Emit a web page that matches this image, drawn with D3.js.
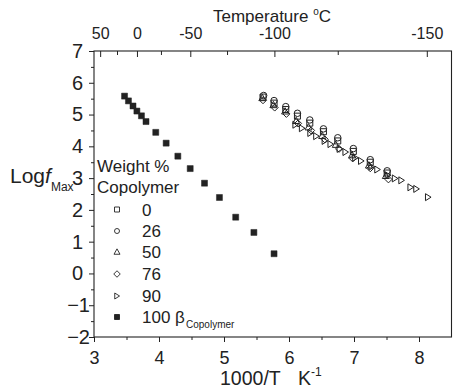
<!DOCTYPE html>
<html>
<head>
<meta charset="utf-8">
<script src="https://cdn.jsdelivr.net/npm/d3@7"></script>
<style>
  html, body { margin: 0; padding: 0; background: #fff; }
  svg { display: block; font-family: Arial, "Liberation Sans", sans-serif; }
</style>
</head>
<body>
<svg id="chart" width="453" height="389"></svg>
<script>
// ---- Data ----
const xTicks = [3, 4, 5, 6, 7, 8];
const yTicks = [-2, -1, 0, 1, 2, 3, 4, 5, 6, 7];
const tempMajor = [50, 0, -50, -100, -150];
const tempMinor = [25, -25, -75, -125];

// 0 wt% (open squares)
const x0 = [5.60, 5.77, 5.95, 6.13, 6.32, 6.53, 6.75, 6.99, 7.25, 7.51];
const y0 = [5.55, 5.36, 5.16, 4.95, 4.73, 4.46, 4.17, 3.84, 3.50, 3.16];
// 26 wt% (open circles)
const x26 = [5.61, 5.77, 5.95, 6.13, 6.32, 6.53, 6.75, 6.99, 7.25, 7.51];
const y26 = [5.60, 5.44, 5.25, 5.04, 4.83, 4.55, 4.27, 3.93, 3.58, 3.23];
// 50 wt% (open up-triangles)
const x50 = [5.59, 5.76, 5.94, 6.11, 6.30, 6.51, 6.72, 6.97, 7.23, 7.49];
const y50 = [5.52, 5.30, 5.10, 4.80, 4.60, 4.33, 4.05, 3.72, 3.40, 3.07];
// 76 wt% (open diamonds)
const x76 = [5.60, 5.78, 5.96, 6.14, 6.34, 6.55, 6.77, 6.98, 7.25, 7.53];
const y76 = [5.45, 5.22, 5.02, 4.72, 4.50, 4.22, 3.92, 3.62, 3.31, 2.96];
// 90 wt% (open right-triangles)
const x90 = [6.10, 6.20, 6.33, 6.42, 6.55, 6.64, 6.78, 6.87, 7.02, 7.11, 7.27, 7.36, 7.52, 7.63, 7.73, 7.87, 7.96, 8.14];
const y90 = [4.68, 4.57, 4.42, 4.32, 4.17, 4.07, 3.92, 3.82, 3.64, 3.54, 3.36, 3.27, 3.09, 2.99, 2.93, 2.71, 2.66, 2.40];
// 100 beta copolymer (filled squares)
const x100 = [3.47, 3.53, 3.60, 3.66, 3.73, 3.80, 3.95, 4.11, 4.29, 4.48, 4.70, 4.93, 5.18, 5.46, 5.77];
const y100 = [5.58, 5.43, 5.27, 5.11, 4.96, 4.78, 4.44, 4.10, 3.69, 3.30, 2.84, 2.39, 1.77, 1.29, 0.62];

const legendLabels = ["0", "26", "50", "76", "90", "100"];

// ---- Setup ----
const svg = d3.select("#chart");
const ink = "#222";
const FONT = "Arial, 'Liberation Sans', sans-serif";
const L = 94, R = 451.5, T = 51, B = 337;
const x = d3.scaleLinear().domain([3, 8.5]).range([L, R]);
const y = d3.scaleLinear().domain([-2, 7]).range([B, T]);
const toInv = t => 1000 / (t + 273.15);

function sym(type, s) {
  const h = s / 2;
  switch (type) {
    case "square": return `M${-h},${-h}H${h}V${h}H${-h}Z`;
    case "circle": return `M${h},0A${h},${h},0,1,1,${-h},0A${h},${h},0,1,1,${h},0Z`;
    case "triUp": return `M0,${-h*1.05}L${h},${h*0.75}L${-h},${h*0.75}Z`;
    case "diamond": return `M0,${-h}L${h},0L0,${h}L${-h},0Z`;
    case "triRight": return `M${h*0.85},0L${-h*0.75},${-h}L${-h*0.75},${h}Z`;
  }
}

const series = [
  { xs: x0, ys: y0, type: "square", size: 6, fill: "none" },
  { xs: x26, ys: y26, type: "circle", size: 6.5, fill: "none" },
  { xs: x50, ys: y50, type: "triUp", size: 7, fill: "none" },
  { xs: x76, ys: y76, type: "diamond", size: 7, fill: "none" },
  { xs: x90, ys: y90, type: "triRight", size: 7, fill: "none" },
  { xs: x100, ys: y100, type: "square", size: 6, fill: ink }
];

// ---- Frame ----
svg.append("rect")
  .attr("x", L).attr("y", T).attr("width", R - L).attr("height", B - T)
  .attr("fill", "none").attr("stroke", ink).attr("stroke-width", 1.1);

// ---- Bottom axis ----
const gB = svg.append("g").attr("transform", `translate(0,${B})`);
gB.call(d3.axisBottom(x).tickValues(xTicks).tickSize(5).tickPadding(8).tickFormat(d3.format("d")))
  .call(g => g.select(".domain").remove());
gB.selectAll(".tick text").attr("font-size", 18).attr("fill", ink).attr("font-family", FONT)
  .attr("dy", null).attr("y", 27);
gB.selectAll("line").attr("stroke", ink);
gB.append("g").call(d3.axisBottom(x).tickValues([3.5, 4.5, 5.5, 6.5, 7.5]).tickSize(3).tickFormat(""))
  .call(g => g.select(".domain").remove())
  .selectAll("line").attr("stroke", ink);

// ---- Left axis ----
const gL = svg.append("g").attr("transform", `translate(${L},0)`);
gL.call(d3.axisLeft(y).tickValues(yTicks).tickSize(5).tickPadding(11).tickFormat(d3.format("d")))
  .call(g => g.select(".domain").remove());
gL.selectAll("line").attr("stroke", ink);
gL.selectAll(".tick text")
  .attr("font-size", 20).attr("fill", ink).attr("font-family", FONT)
  .attr("x", d => d < 0 ? -4 : -11);
gL.append("g").call(d3.axisLeft(y).tickValues([-1.5, -0.5, 0.5, 1.5, 2.5, 3.5, 4.5, 5.5, 6.5]).tickSize(3).tickFormat(""))
  .call(g => g.select(".domain").remove())
  .selectAll("line").attr("stroke", ink);

// ---- Top axis (Temperature) ----
const gT = svg.append("g").attr("transform", `translate(0,${T})`);
gT.call(d3.axisTop(x).tickValues(tempMajor.map(toInv)).tickSizeInner(-6).tickSizeOuter(0).tickPadding(12)
    .tickFormat((d, i) => String(tempMajor[i])))
  .call(g => g.select(".domain").remove());
gT.selectAll("text").attr("font-size", 16).attr("fill", ink).attr("font-family", FONT);
gT.selectAll("line").attr("stroke", ink);
gT.append("g").call(d3.axisTop(x).tickValues(tempMinor.map(toInv)).tickSizeInner(-4).tickSizeOuter(0).tickFormat(""))
  .call(g => g.select(".domain").remove())
  .selectAll("line").attr("stroke", ink);

// ---- Axis titles ----
const tTop = svg.append("text").attr("x", 213).attr("y", 22)
  .attr("font-size", 17).attr("fill", ink);
tTop.append("tspan").text("Temperature ");
tTop.append("tspan").attr("font-size", 10).attr("dy", -7).text("o");
tTop.append("tspan").attr("dy", 7).text("C");

const tBot = svg.append("text").attr("x", 220).attr("y", 385)
  .attr("font-size", 19.5).attr("fill", ink);
tBot.append("tspan").text("1000/T");
tBot.append("tspan").attr("x", 298).text("K");
tBot.append("tspan").attr("font-size", 12).attr("dy", -9).text("-1");

const tLeft = svg.append("text").attr("x", 10).attr("y", 183)
  .attr("font-size", 21).attr("fill", ink);
tLeft.append("tspan").text("Log");
tLeft.append("tspan").attr("font-style", "italic").text("f");
tLeft.append("tspan").attr("font-size", 12).attr("dy", 8).text("Max");

// ---- Data points ----
const gData = svg.append("g");
series.forEach(s => {
  gData.append("g").selectAll("path")
    .data(s.xs.map((v, i) => [v, s.ys[i]]))
    .join("path")
    .attr("transform", d => `translate(${x(d[0])},${y(d[1])})`)
    .attr("d", sym(s.type, s.size))
    .attr("fill", s.fill)
    .attr("stroke", ink)
    .attr("stroke-width", s.fill === "none" ? 1 : 0.5);
});

// ---- Legend ----
const gLeg = svg.append("g").attr("font-size", 17).attr("fill", ink);
gLeg.append("text").attr("x", 97).attr("y", 172).text("Weight %");
gLeg.append("text").attr("x", 97).attr("y", 193).text("Copolymer");
const legY = [209.5, 231, 252, 274, 296, 317];
const legSym = [
  { type: "square", size: 5, fill: "none" },
  { type: "circle", size: 5, fill: "none" },
  { type: "triUp", size: 6, fill: "none" },
  { type: "diamond", size: 6.5, fill: "none" },
  { type: "triRight", size: 6, fill: "none" },
  { type: "square", size: 5, fill: ink }
];
legendLabels.forEach((lab, i) => {
  gLeg.append("path")
    .attr("transform", `translate(117,${legY[i]})`)
    .attr("d", sym(legSym[i].type, legSym[i].size))
    .attr("fill", legSym[i].fill).attr("stroke", ink).attr("stroke-width", 0.9);
  const t = gLeg.append("text").attr("x", 142).attr("y", legY[i] + 6).text(lab);
  if (i === 5) {
    t.append("tspan").attr("x", 175).text("β");
    t.append("tspan").attr("x", 186).attr("dy", 5).attr("font-size", 10).text("Copolymer");
  }
});
</script>
</body>
</html>
